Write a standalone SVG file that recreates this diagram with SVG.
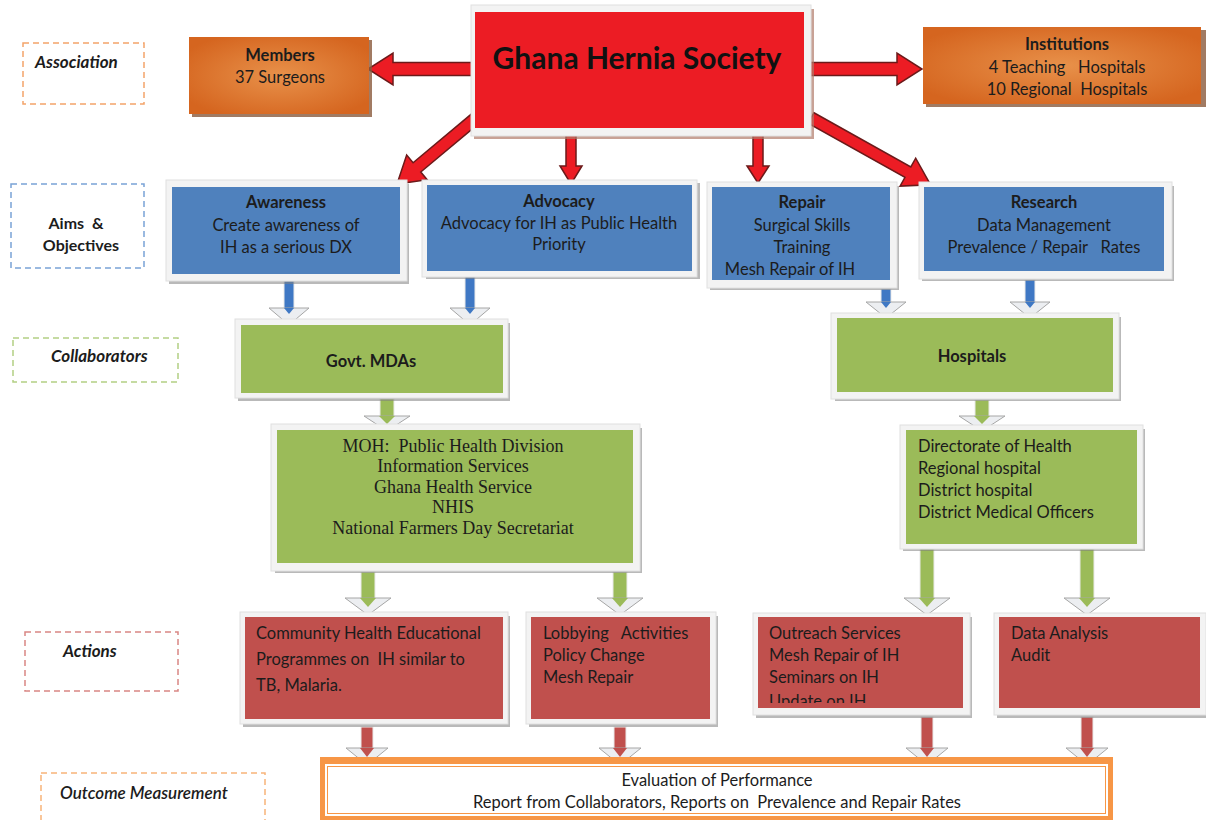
<svg xmlns="http://www.w3.org/2000/svg" width="1206" height="820" viewBox="0 0 1206 820">
<defs>
<radialGradient id="og" cx="50%" cy="50%" r="60%">
<stop offset="0" stop-color="#e8914a"/>
<stop offset="1" stop-color="#d5651f"/>
</radialGradient>
<style>
text{font-family:Lato,"Liberation Sans",sans-serif;fill:#1c1c1c;font-size:16.5px;white-space:pre}
.c{text-anchor:middle}
.b{font-weight:bold}
.lab{font-size:17px;font-weight:bold}
.lab2{font-size:16px;font-weight:bold}
.i{font-style:italic}
.ser{font-family:"Liberation Serif",serif;font-size:18px}
.dash{fill:#fff;stroke-width:1.5;stroke-dasharray:6 4}
.sh{fill:#7f7f7f;opacity:.55}
.fr{fill:#f3f3f3;stroke:#e0e0e0;stroke-width:1}
.blue{fill:#4f81bd}
.green{fill:#9bbb59}
.red{fill:#c0504d}
.ra{fill:#ec1c24;stroke:#6b1a1a;stroke-width:1.5;stroke-linejoin:miter}
.hd{fill:#eceef1;stroke:#a6a6a6;stroke-width:1}
</style>
</defs>
<rect width="1206" height="820" fill="#fff"/>

<g id="labels">
<g id="lab-association"><rect class="dash" x="23" y="43" width="121" height="61" stroke="#f4a46a"/><text class="lab i" x="35" y="68">Association</text></g>
<g id="lab-aims"><rect class="dash" x="11" y="184" width="133" height="84" stroke="#7aa3d6"/><text class="lab2 c" x="76" y="229">Aims  &amp;</text><text class="lab2 c" x="81" y="251">Objectives</text></g>
<g id="lab-collab"><rect class="dash" x="13" y="338" width="165" height="44" stroke="#b3cf84"/><text class="lab i" x="51" y="362">Collaborators</text></g>
<g id="lab-actions"><rect class="dash" x="25" y="632" width="153" height="59" stroke="#d98684"/><text class="lab i" x="63" y="657">Actions</text></g>
<g id="lab-outcome"><rect class="dash" x="41" y="773" width="224" height="50" stroke="#f8b47a"/><text class="i" x="60" y="799" style="font-size:17px;font-weight:600">Outcome Measurement</text></g>
</g>

<g id="connectors">
<path class="ra" d="M472,62.5 L393,62.5 L393,53 L368,69 L393,85 L393,75.5 L472,75.5 Z"/>
<path class="ra" d="M809,62.5 L897,62.5 L897,53 L922,69 L897,85 L897,75.5 L809,75.5 Z"/>
<path class="ra" d="M566,131 L566,166 L560,166 L571,184 L582,166 L576,166 L576,131 Z"/>
<path class="ra" d="M753,131 L753,166 L747,166 L758,183 L769,166 L763,166 L763,131 Z"/>
<path class="ra" transform="translate(476,118) rotate(140.1)" d="M0,-6 L77,-6 L77,-16 L103,0 L77,16 L77,6 L0,6 Z"/>
<path class="ra" transform="translate(811,118) rotate(29.2)" d="M0,-6 L111,-6 L111,-16 L137,0 L111,16 L111,6 L0,6 Z"/>

<g id="blue-arrows">
<rect x="284" y="281" width="10" height="28" fill="#3f78c4" stroke="#eaeaea"/><path class="hd" d="M269,308 L309,308 L289,325 Z"/><path d="M284,308 L294,308 L289,314 Z" fill="#3f78c4"/>
<rect x="465" y="277" width="10" height="32" fill="#3f78c4" stroke="#eaeaea"/><path class="hd" d="M450,308 L490,308 L470,325 Z"/><path d="M465,308 L475,308 L470,314 Z" fill="#3f78c4"/>
<rect x="881" y="289" width="10" height="14" fill="#3f78c4" stroke="#eaeaea"/><path class="hd" d="M866,302 L906,302 L886,318 Z"/><path d="M881,302 L891,302 L886,308 Z" fill="#3f78c4"/>
<rect x="1025" y="280" width="10" height="23" fill="#3f78c4" stroke="#eaeaea"/><path class="hd" d="M1010,302 L1050,302 L1030,318 Z"/><path d="M1025,302 L1035,302 L1030,308 Z" fill="#3f78c4"/>
</g>
<g id="green-arrows">
<rect x="380" y="399" width="14" height="18" fill="#9bbb59" stroke="#eaeaea"/><path class="hd" d="M364,416 L410,416 L387,431 Z"/><path d="M379,416 L395,416 L387,424 Z" fill="#9bbb59"/>
<rect x="975" y="400" width="14" height="17" fill="#9bbb59" stroke="#eaeaea"/><path class="hd" d="M959,416 L1005,416 L982,431 Z"/><path d="M974,416 L990,416 L982,424 Z" fill="#9bbb59"/>
<rect x="361" y="572" width="14" height="27" fill="#9bbb59" stroke="#eaeaea"/><path class="hd" d="M345,598 L391,598 L368,615 Z"/><path d="M360,598 L376,598 L368,607 Z" fill="#9bbb59"/>
<rect x="613" y="572" width="14" height="27" fill="#9bbb59" stroke="#eaeaea"/><path class="hd" d="M597,598 L643,598 L620,615 Z"/><path d="M612,598 L628,598 L620,607 Z" fill="#9bbb59"/>
<rect x="920" y="549" width="14" height="50" fill="#9bbb59" stroke="#eaeaea"/><path class="hd" d="M904,598 L950,598 L927,615 Z"/><path d="M919,598 L935,598 L927,607 Z" fill="#9bbb59"/>
<rect x="1080" y="549" width="14" height="50" fill="#9bbb59" stroke="#eaeaea"/><path class="hd" d="M1064,598 L1110,598 L1087,615 Z"/><path d="M1079,598 L1095,598 L1087,607 Z" fill="#9bbb59"/>
</g>
<g id="red-arrows">
<rect x="361" y="727" width="12" height="22" fill="#c0504d" stroke="#eaeaea"/><path class="hd" d="M346,748 L388,748 L367,765 Z"/><path d="M360,748 L374,748 L367,757 Z" fill="#c0504d"/>
<rect x="614" y="727" width="12" height="22" fill="#c0504d" stroke="#eaeaea"/><path class="hd" d="M599,748 L641,748 L620,765 Z"/><path d="M613,748 L627,748 L620,757 Z" fill="#c0504d"/>
<rect x="921" y="717" width="12" height="32" fill="#c0504d" stroke="#eaeaea"/><path class="hd" d="M906,748 L948,748 L927,765 Z"/><path d="M920,748 L934,748 L927,757 Z" fill="#c0504d"/>
<rect x="1081" y="717" width="12" height="32" fill="#c0504d" stroke="#eaeaea"/><path class="hd" d="M1066,748 L1108,748 L1087,765 Z"/><path d="M1080,748 L1094,748 L1087,757 Z" fill="#c0504d"/>
</g>
</g>

<g id="members">
<rect x="192" y="40" width="180" height="77" fill="#8a5a3c" opacity=".8"/>
<rect x="189" y="37" width="180" height="77" fill="url(#og)"/>
<text class="c b" x="280" y="61">Members</text>
<text class="c" x="280" y="83">37 Surgeons</text>
</g>

<g id="ghs">
<rect x="474" y="9" width="340" height="130" fill="#b07a6a" opacity=".7"/>
<rect class="fr" x="471" y="5" width="340" height="131"/>
<rect x="475" y="12" width="329" height="116" fill="#ec1c24"/>
<text class="c b" x="637" y="69" style="font-size:30px;fill:#111">Ghana Hernia Society</text>
</g>

<g id="institutions">
<rect x="926" y="30" width="280" height="77" fill="#8a5a3c" opacity=".8"/>
<rect x="923" y="27" width="278" height="77" fill="url(#og)"/>
<text class="c b" x="1067" y="50">Institutions</text>
<text class="c" x="1067" y="73">4 Teaching   Hospitals</text>
<text class="c" x="1067" y="95">10 Regional  Hospitals</text>
</g>

<g id="awareness">
<rect class="sh" x="169" y="184" width="240" height="100"/>
<rect class="fr" x="166" y="180" width="241" height="101"/>
<rect class="blue" x="172" y="187" width="228" height="87"/>
<text class="c b" x="286" y="208">Awareness</text>
<text class="c" x="286" y="231">Create awareness of</text>
<text class="c" x="286" y="253">IH as a serious DX</text>
</g>

<g id="advocacy">
<rect class="sh" x="426" y="183" width="274" height="96"/>
<rect class="fr" x="422" y="180" width="275" height="97"/>
<rect class="blue" x="427" y="185" width="265" height="86"/>
<text class="c b" x="559" y="207">Advocacy</text>
<text class="c" x="559" y="229">Advocacy for IH as Public Health</text>
<text class="c" x="559" y="250">Priority</text>
</g>

<g id="repair">
<rect class="sh" x="710" y="186" width="189" height="104"/>
<rect class="fr" x="707" y="182" width="190" height="106"/>
<rect class="blue" x="712" y="187" width="178" height="93"/>
<text class="c b" x="802" y="208">Repair</text>
<text class="c" x="802" y="231">Surgical Skills</text>
<text class="c" x="802" y="253">Training</text>
<text class="c" x="790" y="275">Mesh Repair of IH</text>
</g>

<g id="research">
<rect class="sh" x="922" y="186" width="252" height="95"/>
<rect class="fr" x="919" y="182" width="253" height="97"/>
<rect class="blue" x="924" y="187" width="240" height="84"/>
<text class="c b" x="1044" y="208">Research</text>
<text class="c" x="1044" y="231">Data Management</text>
<text class="c" x="1044" y="253">Prevalence / Repair   Rates</text>
</g>

<g id="govt">
<rect class="sh" x="238" y="323" width="272" height="78"/>
<rect class="fr" x="235" y="319" width="273" height="79"/>
<rect class="green" x="241" y="325" width="262" height="68"/>
<text class="c b" x="371" y="367">Govt. MDAs</text>
</g>

<g id="hospitals">
<rect class="sh" x="835" y="317" width="286" height="84"/>
<rect class="fr" x="831" y="313" width="288" height="86"/>
<rect class="green" x="837" y="318" width="276" height="74"/>
<text class="c b" x="972" y="362">Hospitals</text>
</g>

<g id="moh">
<rect class="sh" x="275" y="428" width="367" height="145"/>
<rect class="fr" x="271" y="424" width="369" height="147"/>
<rect class="green" x="277" y="430" width="356" height="133"/>
<text class="c ser" x="453" y="452">MOH:  Public Health Division</text>
<text class="c ser" x="453" y="472">Information Services</text>
<text class="c ser" x="453" y="493">Ghana Health Service</text>
<text class="c ser" x="453" y="513">NHIS</text>
<text class="c ser" x="453" y="534">National Farmers Day Secretariat</text>
</g>

<g id="directorate">
<rect class="sh" x="903" y="429" width="242" height="122"/>
<rect class="fr" x="900" y="425" width="243" height="124"/>
<rect class="green" x="906" y="430" width="231" height="114"/>
<text x="918" y="452">Directorate of Health</text>
<text x="918" y="474">Regional hospital</text>
<text x="918" y="496">District hospital</text>
<text x="918" y="518">District Medical Officers</text>
</g>

<g id="community">
<rect class="sh" x="243" y="616" width="267" height="111"/>
<rect class="fr" x="240" y="612" width="268" height="112"/>
<rect class="red" x="245" y="617" width="258" height="102"/>
<text x="256" y="639">Community Health Educational</text>
<text x="256" y="665">Programmes on  IH similar to</text>
<text x="256" y="691">TB, Malaria.</text>
</g>

<g id="lobbying">
<rect class="sh" x="529" y="616" width="189" height="111"/>
<rect class="fr" x="526" y="612" width="190" height="112"/>
<rect class="red" x="531" y="617" width="179" height="102"/>
<text x="543" y="639">Lobbying   Activities</text>
<text x="543" y="661">Policy Change</text>
<text x="543" y="683">Mesh Repair</text>
</g>

<g id="outreach">
<rect class="sh" x="756" y="617" width="216" height="101"/>
<rect class="fr" x="753" y="613" width="217" height="102"/>
<clipPath id="oc"><rect x="758" y="617" width="205" height="86"/></clipPath>
<rect class="red" x="758" y="617" width="205" height="91"/>
<g clip-path="url(#oc)">
<text x="769" y="639">Outreach Services</text>
<text x="769" y="661">Mesh Repair of IH</text>
<text x="769" y="683">Seminars on IH</text>
<text x="769" y="707">Update on IH</text>
</g>
</g>

<g id="data">
<rect class="sh" x="997" y="617" width="209" height="101"/>
<rect class="fr" x="994" y="613" width="212" height="102"/>
<rect class="red" x="999" y="617" width="201" height="91"/>
<text x="1011" y="639">Data Analysis</text>
<text x="1011" y="661">Audit</text>
</g>

<g id="outcome">
<rect x="320" y="757" width="793" height="63" fill="#f79646"/>
<rect x="325" y="764" width="783" height="52" fill="#fff"/>
<rect x="327.5" y="766.5" width="778" height="47" fill="#fff" stroke="#f79646" stroke-width="1"/>
<text class="c" x="717" y="786">Evaluation of Performance</text>
<text class="c" x="717" y="808">Report from Collaborators, Reports on  Prevalence and Repair Rates</text>
</g>
</svg>
